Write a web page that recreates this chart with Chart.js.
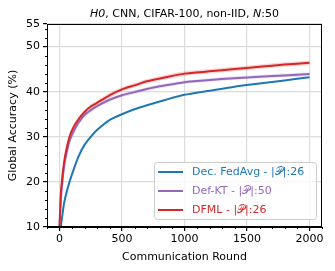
<!DOCTYPE html>
<html>
<head>
<meta charset="UTF-8">
<script src="https://cdn.jsdelivr.net/npm/chart.js"></script>
<style>
    body { margin: 0; background: #fff; }
    #wrap { width: 335px; height: 271px; }
</style>
</head>
<body>
<div id="wrap"><canvas id="chart"></canvas></div>
<script>
    // communication rounds shared by every series
    const rounds = [0, 10, 20, 35, 50, 80, 110, 150, 200, 250, 300, 400, 500, 600, 700, 850, 1000, 1200, 1400, 1600, 1800, 2000];

    const dfml      = [10, 17, 20.5, 24, 26.5, 30, 32, 33.8, 35.5, 36.7, 37.5, 39.2, 40.5, 41.4, 42.3, 43.2, 44.0, 44.5, 45.0, 45.5, 46.0, 46.4];
    const dfmlHi    = [10, 17.4, 21.0, 24.5, 27.0, 30.5, 32.5, 34.3, 36.0, 37.2, 38.0, 39.7, 41.0, 41.9, 42.8, 43.7, 44.5, 45.0, 45.5, 46.0, 46.5, 46.9];
    const dfmlLo    = [10, 16.6, 20.0, 23.5, 26.0, 29.5, 31.5, 33.3, 35.0, 36.2, 37.0, 38.7, 40.0, 40.9, 41.8, 42.7, 43.5, 44.0, 44.5, 45.0, 45.5, 45.9];

    const defkt     = [10, 16, 19, 23, 25.5, 29, 31, 33, 34.8, 35.9, 36.8, 38.2, 39.2, 39.9, 40.6, 41.4, 42.1, 42.6, 43.0, 43.3, 43.6, 43.9];
    const defktHi   = [10, 16.4, 19.4, 23.4, 25.9, 29.4, 31.4, 33.4, 35.2, 36.3, 37.2, 38.6, 39.6, 40.3, 41.0, 41.8, 42.5, 43.0, 43.4, 43.7, 44.0, 44.3];
    const defktLo   = [10, 15.6, 18.6, 22.6, 25.1, 28.6, 30.6, 32.6, 34.4, 35.5, 36.4, 37.8, 38.8, 39.5, 40.2, 41.0, 41.7, 42.2, 42.6, 42.9, 43.2, 43.5];

    const fedavg    = [null, 10, 12, 15, 17, 20, 22.5, 25.5, 28.2, 30, 31.5, 33.7, 35.0, 36.1, 37.0, 38.2, 39.3, 40.2, 41.1, 41.8, 42.5, 43.2];

    const yTicks = [10, 20, 30, 40, 50, 55];
    const xTicks = [0, 500, 1000, 1500, 2000];

    const legendItems = [
        { label: 'Dec. FedAvg - |\u{1D4AB}|:26', color: '#1f77b4' },
        { label: 'Def-KT - |\u{1D4AB}|:50', color: '#9467bd' },
        { label: 'DFML - |\u{1D4AB}|:26', color: '#d62728' }
    ];

    const FONT = 'DejaVu Sans';

    function pts(ys) {
        return rounds.map((r, i) => ({ x: r, y: ys[i] }));
    }

    function line(label, ys, color) {
        return { label, data: pts(ys), borderColor: color, borderWidth: 2, pointRadius: 0, fill: false, tension: 0.2 };
    }

    function band(ys, color, fill) {
        return { data: pts(ys), borderWidth: 0, borderColor: 'transparent', backgroundColor: color, pointRadius: 0, fill: fill, tension: 0.2 };
    }

    // title, frame, minor ticks and legend drawn by hand
    const extras = {
        id: 'extras',
        afterDatasetsDraw(chart) {
            const ctx = chart.ctx;
            const a = chart.chartArea;
            const xs = chart.scales.x, ys = chart.scales.y;
            ctx.save();

            // frame top/right
            ctx.strokeStyle = '#000';
            ctx.lineWidth = 1;
            ctx.strokeRect(a.left + 0.5, a.top + 0.5, a.right - a.left - 1, a.bottom - a.top - 1);

            // minor ticks
            ctx.beginPath();
            for (let v = 12; v < 55; v += 2) {
                if (v % 10 === 0) continue;
                const y = Math.round(ys.getPixelForValue(v)) + 0.5;
                ctx.moveTo(a.left, y); ctx.lineTo(a.left - 2, y);
            }
            for (let v = -100; v <= 2100; v += 100) {
                if (v % 500 === 0) continue;
                const x = Math.round(xs.getPixelForValue(v)) + 0.5;
                ctx.moveTo(x, a.bottom); ctx.lineTo(x, a.bottom + 2);
            }
            ctx.stroke();

            // legend
            const bx = 154.5, by = 162.5, bw = 162, bh = 57;
            ctx.fillStyle = 'rgba(255,255,255,0.8)';
            ctx.strokeStyle = '#ccc';
            ctx.beginPath();
            ctx.roundRect(bx, by, bw, bh, 3);
            ctx.fill();
            ctx.stroke();
            ctx.font = '11px "' + FONT + '"';
            ctx.textBaseline = 'middle';
            legendItems.forEach((it, i) => {
                const y = 172 + i * 19;
                ctx.strokeStyle = it.color;
                ctx.lineWidth = 2;
                ctx.beginPath();
                ctx.moveTo(158, y); ctx.lineTo(183, y);
                ctx.stroke();
                ctx.fillStyle = it.color;
                ctx.fillText(it.label, 192, y);
            });

            // title with italic parts
            const parts = [
                ['H0', true], [', CNN, CIFAR-100, non-IID, ', false], ['N', true], [':50', false]
            ];
            let total = 0;
            parts.forEach(p => {
                ctx.font = (p[1] ? 'italic ' : '') + '11px "' + FONT + '"';
                total += ctx.measureText(p[0]).width;
            });
            let x = (a.left + a.right) / 2 - total / 2;
            ctx.fillStyle = '#000';
            ctx.textBaseline = 'middle';
            parts.forEach(p => {
                ctx.font = (p[1] ? 'italic ' : '') + '11px "' + FONT + '"';
                ctx.fillText(p[0], x, 14);
                x += ctx.measureText(p[0]).width;
            });
            ctx.restore();
        }
    };

    new Chart(document.getElementById('chart'), {
        type: 'line',
        data: {
            datasets: [
                line('DFML', dfml, '#d62728'),
                line('Def-KT', defkt, '#9467bd'),
                line('Dec. FedAvg', fedavg, '#1f77b4'),
                band(dfmlHi, 'rgba(214,39,40,0.2)', '+1'),
                band(dfmlLo, 'transparent', false),
                band(defktHi, 'rgba(148,103,189,0.2)', '+1'),
                band(defktLo, 'transparent', false)
            ]
        },
        options: {
            responsive: true,
            maintainAspectRatio: false,
            animation: false,
            layout: { padding: { left: 0, right: 13, top: 24, bottom: 0 } },
            plugins: { legend: { display: false }, tooltip: { enabled: false } },
            scales: {
                x: {
                    type: 'linear',
                    min: -100, max: 2100,
                    afterBuildTicks: s => { s.ticks = xTicks.map(v => ({ value: v })); },
                    afterFit: s => { s.height = 44; },
                    grid: { color: '#dcdcdc', lineWidth: 1.2, tickColor: '#000', tickLength: 4 },
                    border: { color: '#000', width: 1 },
                    ticks: { color: '#000', font: { family: FONT, size: 11 }, padding: 2, maxRotation: 0, callback: v => String(v) },
                    title: { display: true, text: 'Communication Round', color: '#000', font: { family: FONT, size: 11 }, padding: 7 }
                },
                y: {
                    min: 10, max: 55,
                    afterBuildTicks: s => { s.ticks = yTicks.map(v => ({ value: v })); },
                    afterFit: s => { s.width = 47; },
                    grid: { color: '#dcdcdc', lineWidth: 1.2, tickColor: '#000', tickLength: 4 },
                    border: { color: '#000', width: 1 },
                    ticks: { color: '#000', font: { family: FONT, size: 11 }, padding: 3, callback: v => String(v) },
                    title: { display: true, text: 'Global Accuracy (%)', color: '#000', font: { family: FONT, size: 11 }, padding: 7 }
                }
            }
        },
        plugins: [extras]
    });
</script>
</body>
</html>
